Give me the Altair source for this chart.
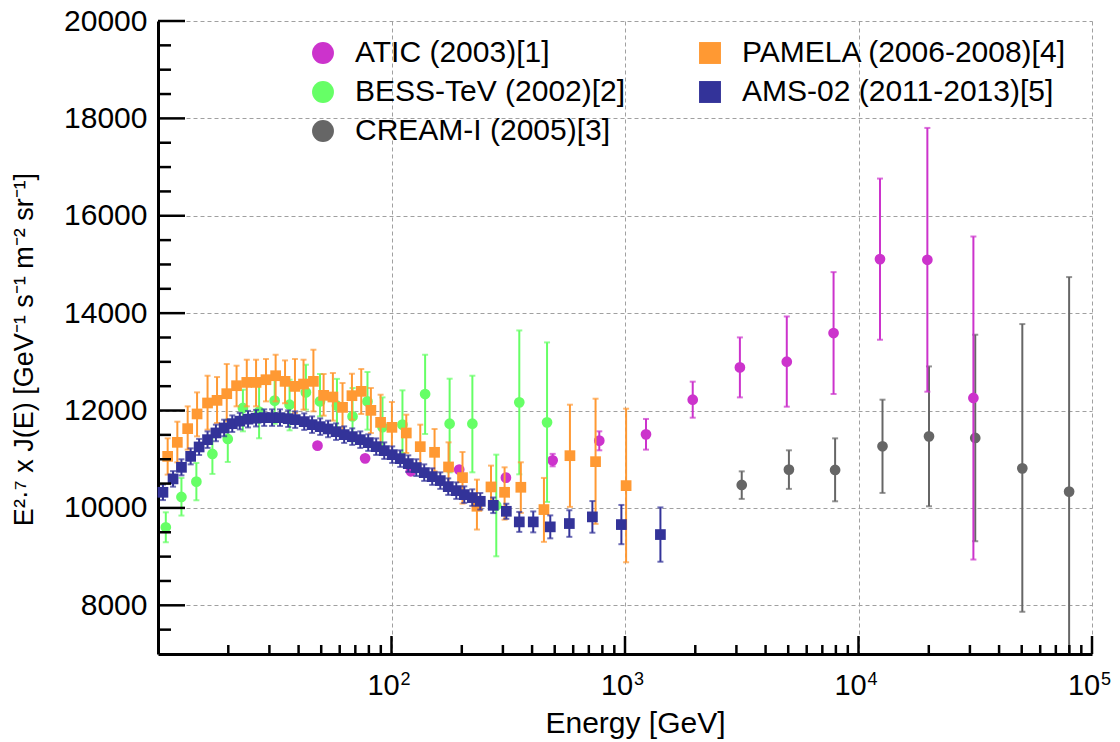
import altair as alt
import pandas as pd

FONT = "Liberation Sans"

# ---------------- data ----------------
atic_E = [48.2, 77.1, 121, 195, 309, 490, 776, 1230, 1950, 3105, 4930, 7820, 12360, 19720, 31050]
atic_v = [11279, 11018, 10752, 10787, 10622, 10977, 11382, 11511, 12223, 12886, 13003, 13591, 15110, 15096, 12258]
atic_hi = [11320, 11060, 10800, 10850, 10700, 11110, 11573, 11827, 12593, 13502, 13932, 14843, 16764, 17804, 15574]
atic_lo = [11238, 10976, 10704, 10724, 10544, 10854, 11183, 11197, 11853, 12270, 12079, 12340, 13454, 12387, 8940]

bess_E = [10.8, 12.6, 14.6, 17.1, 19.9, 23.1, 27.1, 31.6, 36.6, 43.0, 49.4, 58.4, 68.1, 78.9, 91.5, 111.4, 139.3, 177.4, 222, 281, 352.6, 463.6]
bess_v = [9603, 10226, 10540, 11108, 11416, 12053, 11977, 12203, 12120, 12373, 12188, 12100, 11880, 12188, 11660, 11710, 12339, 11730, 11730, 10050, 12168, 11757]
bess_hi = [9910, 10616, 10924, 11470, 11813, 12428, 12540, 12647, 12633, 12941, 12750, 12650, 12463, 12791, 12270, 12415, 13146, 12654, 12715, 11094, 13645, 13399]
bess_lo = [9295, 9843, 10157, 10698, 10944, 11573, 11430, 11730, 11593, 12018, 11880, 11560, 11367, 11607, 11100, 11128, 11518, 10731, 10731, 9006, 10690, 10123]

cream_E = [3162, 5035, 7940, 12670, 20040, 31620, 50300, 79800]
cream_v = [10472, 10787, 10780, 11265, 11470, 11437, 10813, 10335]
cream_hi = [10751, 11183, 11429, 12223, 12906, 13557, 13776, 14741]
cream_lo = [10185, 10391, 10136, 10308, 10034, 9316, 7867, 5900]

pam_E = [11.0, 12.1, 13.4, 14.7, 16.3, 17.9, 19.7, 21.7, 24.0, 26.3, 29.0, 31.9, 35.0, 38.6, 42.0, 46.3, 51.2, 56.1, 61.7, 67.7, 74.2, 81.6, 89.8, 100.4, 115.7, 132.8, 152.9, 175.5, 201.4, 232.2, 266.7, 305, 358, 449.6, 581, 748, 1011]
pam_v = [11059, 11347, 11628, 11930, 12155, 12209, 12346, 12510, 12578, 12578, 12633, 12715, 12599, 12496, 12544, 12599, 12312, 12278, 12065, 12305, 12394, 12004, 11757, 11655, 11539, 11258, 11142, 10841, 10622, 10034, 10431, 10321, 10424, 9966, 11073, 10950, 10458]
pam_hi = [11429, 11771, 12086, 12373, 12715, 12688, 12955, 12921, 13044, 13044, 13058, 13146, 13030, 13058, 13044, 13249, 12750, 12771, 12565, 12756, 12853, 12463, 12325, 12175, 11915, 11710, 11621, 11347, 11149, 10581, 10869, 10834, 10937, 10616, 12120, 12243, 12038]
pam_lo = [10684, 10936, 11197, 11470, 11607, 11744, 11778, 12086, 12086, 12086, 12188, 12188, 12150, 11950, 12018, 11983, 11895, 11792, 11573, 11812, 11930, 11538, 11231, 11162, 11128, 10787, 10752, 10440, 10089, 9556, 10000, 9760, 9898, 9303, 10021, 9672, 8884]

ams_E = [10.5, 11.6, 12.6, 13.8, 15.0, 16.3, 17.7, 19.2, 20.8, 22.4, 24.3, 26.3, 28.5, 30.8, 33.3, 36.1, 38.7, 42.3, 45.7, 49.5, 53.5, 57.9, 62.7, 67.9, 73.5, 79.5, 86.0, 93.1, 100.7, 109.0, 118.0, 127.7, 138.1, 149.4, 161.8, 175.0, 189.4, 205.0, 221.8, 240.0, 272.7, 310.3, 352.6, 404.6, 478.6, 577.6, 725, 965, 1418]
ams_v = [10321, 10596, 10834, 11059, 11252, 11402, 11540, 11642, 11730, 11782, 11823, 11843, 11854, 11854, 11854, 11833, 11813, 11772, 11710, 11669, 11622, 11566, 11505, 11464, 11402, 11341, 11258, 11176, 11094, 11012, 10910, 10828, 10725, 10643, 10561, 10437, 10355, 10273, 10212, 10136, 10054, 9931, 9713, 9713, 9611, 9679, 9816, 9658, 9453]
ams_err = [160, 160, 165, 165, 165, 170, 170, 170, 170, 170, 170, 170, 170, 170, 170, 170, 170, 170, 170, 170, 170, 170, 170, 170, 170, 170, 170, 170, 170, 170, 170, 170, 170, 170, 170, 170, 170, 170, 170, 170, 160, 155, 205, 215, 236, 273, 325, 403, 558]

order = ["ATIC (2003)[1]", "BESS-TeV (2002)[2]", "CREAM-I (2005)[3]", "PAMELA (2006-2008)[4]", "AMS-02 (2011-2013)[5]"]
colors = ["#CC33CC", "#66FF66", "#666666", "#FF9933", "#333399"]
shapes = ["circle", "circle", "circle", "square", "square"]

y_major = [8000, 10000, 12000, 14000, 16000, 18000, 20000]
y_minor = [7500, 8500, 9000, 9500, 10500, 11000, 11500, 12500, 13000, 13500, 14500, 15000, 15500, 16500, 17000, 17500, 18500, 19000, 19500]
x_major = [100, 1000, 10000, 100000]
x_minor = [20, 30, 40, 50, 60, 70, 80, 90, 200, 300, 400, 500, 600, 700, 800, 900,
           2000, 3000, 4000, 5000, 6000, 7000, 8000, 9000, 20000, 30000, 40000, 50000, 60000, 70000, 80000, 90000]
x_label_base = ["10", "10", "10", "10"]
x_label_exp = ["2", "3", "4", "5"]

# ---------------- tables ----------------
def table(name, E, v, lo, hi):
    return pd.DataFrame({"exp": name, "E": E, "val": v, "lo": lo, "hi": hi})

frames = {
    "CREAM-I (2005)[3]": table("CREAM-I (2005)[3]", cream_E, cream_v, cream_lo, cream_hi),
    "ATIC (2003)[1]": table("ATIC (2003)[1]", atic_E, atic_v, atic_lo, atic_hi),
    "BESS-TeV (2002)[2]": table("BESS-TeV (2002)[2]", bess_E, bess_v, bess_lo, bess_hi),
    "PAMELA (2006-2008)[4]": table("PAMELA (2006-2008)[4]", pam_E, pam_v, pam_lo, pam_hi),
    "AMS-02 (2011-2013)[5]": table("AMS-02 (2011-2013)[5]", ams_E, ams_v,
                                   [a - b for a, b in zip(ams_v, ams_err)],
                                   [a + b for a, b in zip(ams_v, ams_err)]),
}
color_of = dict(zip(order, colors))

W, H = 934, 633

xscale = alt.Scale(type="log", domain=[10, 100000], nice=False)
yscale = alt.Scale(domain=[7000, 20000], nice=False, zero=False)

xaxis = alt.Axis(values=x_major, labels=False, ticks=False, grid=True,
                 gridDash=[4, 3], gridColor="#a0a0a0", gridWidth=1,
                 domainColor="black", domainWidth=3,
                 title="Energy [GeV]", titleFontSize=30, titleFontWeight="normal",
                 titleColor="black", titleX=477, titleY=78, titleAlign="center",
                 titleBaseline="alphabetic")
yaxis = alt.Axis(values=y_major, format="d", ticks=False, grid=True, gridDash=[4, 3],
                 gridColor="#a0a0a0", gridWidth=1, domainColor="black", domainWidth=3,
                 labelFontSize=30, labelColor="black", labelPadding=11,
                 title="E²·⁷ x J(E) [GeV⁻¹ s⁻¹ m⁻² sr⁻¹]", titleFontSize=27,
                 titleFontWeight="normal", titleColor="black", titleAngle=270,
                 titleX=-134, titleY=328, titleAlign="center", titleBaseline="middle")

leg = alt.Legend(orient="none", legendX=150, legendY=17, columns=2, columnPadding=69,
                 rowPadding=9, labelFontSize=30, labelColor="black", symbolSize=480,
                 symbolStrokeWidth=0, labelOffset=17, labelLimit=0, title=None)

layers = []
for name in ["CREAM-I (2005)[3]", "ATIC (2003)[1]", "BESS-TeV (2002)[2]", "PAMELA (2006-2008)[4]", "AMS-02 (2011-2013)[5]"]:
    df = frames[name]
    col = color_of[name]
    base = alt.Chart(df)
    bars = base.mark_rule(strokeWidth=2, clip=True).encode(
        x=alt.X("E:Q", scale=xscale, axis=xaxis),
        y=alt.Y("lo:Q", scale=yscale, axis=yaxis),
        y2="hi:Q",
        color=alt.value(col))
    cap_hi = base.mark_tick(orient="horizontal", size=6, thickness=2, clip=True).encode(
        x=alt.X("E:Q", scale=xscale, axis=xaxis),
        y=alt.Y("hi:Q", scale=yscale, axis=yaxis),
        color=alt.value(col))
    cap_lo = base.mark_tick(orient="horizontal", size=6, thickness=2, clip=True).encode(
        x=alt.X("E:Q", scale=xscale, axis=xaxis),
        y=alt.Y("lo:Q", scale=yscale, axis=yaxis),
        color=alt.value(col))
    pts = base.mark_point(filled=True, opacity=1, size=115, strokeWidth=0).encode(
        x=alt.X("E:Q", scale=xscale, axis=xaxis),
        y=alt.Y("val:Q", scale=yscale, axis=yaxis),
        color=alt.Color("exp:N", scale=alt.Scale(domain=order, range=colors), legend=leg),
        shape=alt.Shape("exp:N", scale=alt.Scale(domain=order, range=shapes), legend=leg))
    layers += [bars, cap_hi, cap_lo, pts]

# inward ticks
xmaj = alt.Chart(pd.DataFrame({"t": x_major})).mark_rule(color="black", strokeWidth=2.5).encode(
    x=alt.X("t:Q", scale=xscale, axis=xaxis), y=alt.value(H), y2=alt.value(H - 18))
xmin = alt.Chart(pd.DataFrame({"t": x_minor})).mark_rule(color="black", strokeWidth=2.5).encode(
    x=alt.X("t:Q", scale=xscale, axis=xaxis), y=alt.value(H), y2=alt.value(H - 9))
ymaj = alt.Chart(pd.DataFrame({"t": y_major})).mark_rule(color="black", strokeWidth=2.5).encode(
    y=alt.Y("t:Q", scale=yscale, axis=yaxis), x=alt.value(0), x2=alt.value(27))
ymin = alt.Chart(pd.DataFrame({"t": y_minor})).mark_rule(color="black", strokeWidth=2.5).encode(
    y=alt.Y("t:Q", scale=yscale, axis=yaxis), x=alt.value(0), x2=alt.value(13))

labdf = pd.DataFrame({"t": x_major, "b": x_label_base, "e": x_label_exp})
xlab = alt.Chart(labdf).mark_text(fontSize=29, align="center", baseline="alphabetic", dx=-8, color="black").encode(
    x=alt.X("t:Q", scale=xscale, axis=xaxis), y=alt.value(674), text="b:N")
xexp = alt.Chart(labdf).mark_text(fontSize=18, align="center", baseline="alphabetic", dx=14, color="black").encode(
    x=alt.X("t:Q", scale=xscale, axis=xaxis), y=alt.value(664), text="e:N")

chart = alt.layer(*layers, xmaj, xmin, ymaj, ymin, xlab, xexp).properties(
    width=W, height=H,
    autosize=alt.AutoSizeParams(type="none"),
    padding={"left": 158, "top": 21, "right": 28, "bottom": 88},
    background="white",
).configure(font=FONT).configure_view(stroke=None)

chart.save("out.html", embed_options={"renderer": "svg", "actions": False})
